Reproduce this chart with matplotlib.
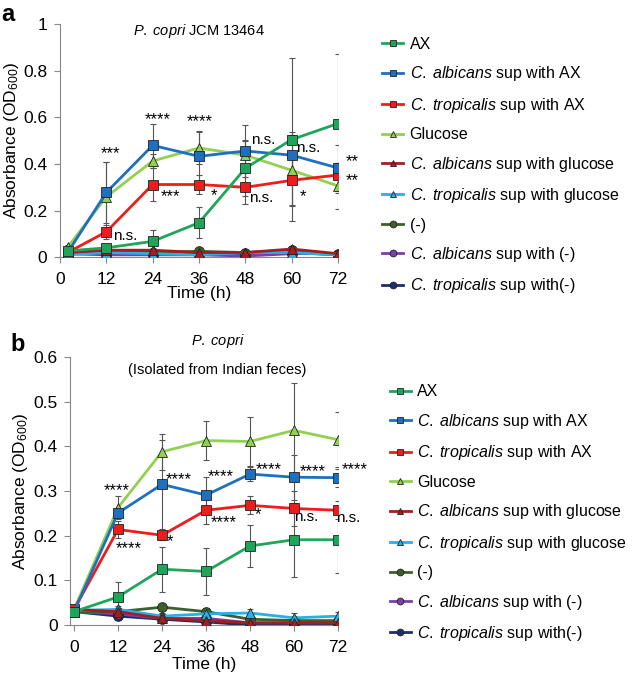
import matplotlib
matplotlib.use("Agg")
import matplotlib.pyplot as plt
import numpy as np

plt.rcParams['font.family'] = ['Liberation Sans', 'DejaVu Sans']
plt.rcParams['mathtext.fontset'] = 'custom'
plt.rcParams['mathtext.rm'] = 'Liberation Sans'
plt.rcParams['mathtext.it'] = 'Liberation Sans:italic'

# ---- data ----
labels = ["AX",
          r"$\it{C.\;albicans}$ sup with AX",
          r"$\it{C.\;tropicalis}$ sup with AX",
          "Glucose",
          r"$\it{C.\;albicans}$ sup with glucose",
          r"$\it{C.\;tropicalis}$ sup with glucose",
          "(-)",
          r"$\it{C.\;albicans}$ sup with (-)",
          r"$\it{C.\;tropicalis}$ sup with(-)"]
colors = ["#1fa55a", "#1f6fbf", "#ee1c1c", "#92d050", "#a51d23",
          "#27b0e6", "#3d5f2c", "#7a3fa8", "#1b2f6b"]
markers = ["s", "s", "s", "^", "^", "^", "o", "o", "o"]

time_a = [2, 12, 24, 36, 48, 60, 72]
ax_a = [0.027, 0.04, 0.068, 0.148, 0.382, 0.505, 0.574]
alb_ax_a = [0.02, 0.278, 0.48, 0.433, 0.456, 0.438, 0.383]
trop_ax_a = [0.02, 0.109, 0.312, 0.312, 0.30, 0.33, 0.353]
glc_a = [0.043, 0.259, 0.413, 0.469, 0.438, 0.373, 0.306]
alb_glc_a = [0.02, 0.03, 0.03, 0.02, 0.02, 0.035, 0.015]
trop_glc_a = [0.01, 0.02, 0.015, 0.01, 0.02, 0.02, 0.01]
neg_a = [0.02, 0.025, 0.02, 0.025, 0.02, 0.03, 0.01]
alb_neg_a = [0.015, 0.01, 0.01, 0.01, 0.005, 0.015, 0.015]
trop_neg_a = [0.015, 0.015, 0.015, 0.02, 0.015, 0.02, 0.01]

err_ax_a = [0.01, 0.01, 0.05, 0.066, 0.12, 0.35, 0.3]
err_alb_ax_a = [0.01, 0.13, 0.09, 0.11, 0.11, 0.1, 0.1]
err_trop_ax_a = [0.01, 0.03, 0.07, 0.04, 0.07, 0.11, 0.05]
err_glc_a = [0.01, 0.15, 0.03, 0.07, 0.06, 0.15, 0.1]
err_low_a = [0.008, 0.01, 0.01, 0.01, 0.012, 0.015, 0.008]

time_b = [0, 12, 24, 36, 48, 60, 72]
ax_b = [0.03, 0.063, 0.125, 0.12, 0.177, 0.191, 0.191]
alb_ax_b = [0.03, 0.251, 0.315, 0.291, 0.338, 0.331, 0.33]
trop_ax_b = [0.035, 0.214, 0.201, 0.257, 0.268, 0.261, 0.257]
glc_b = [0.035, 0.263, 0.388, 0.413, 0.411, 0.436, 0.415]
alb_glc_b = [0.035, 0.03, 0.015, 0.01, 0.005, 0.005, 0.005]
trop_glc_b = [0.033, 0.035, 0.02, 0.025, 0.027, 0.016, 0.02]
neg_b = [0.03, 0.03, 0.04, 0.03, 0.013, 0.01, 0.01]
alb_neg_b = [0.03, 0.025, 0.015, 0.015, 0.005, 0.005, 0.005]
trop_neg_b = [0.03, 0.02, 0.013, 0.007, 0.0, 0.0, 0.0]

err_ax_b = [0.005, 0.033, 0.05, 0.053, 0.048, 0.083, 0.075]
err_alb_ax_b = [0.005, 0.01, 0.1, 0.04, 0.015, 0.05, 0.02]
err_trop_ax_b = [0.005, 0.02, 0.01, 0.03, 0.02, 0.04, 0.02]
err_glc_b = [0.005, 0.025, 0.04, 0.043, 0.055, 0.107, 0.062]
err_low_b = [0.005, 0.008, 0.008, 0.008, 0.01, 0.01, 0.01]

# significance marks (time, value, text)
sig_a = [(13, 0.445, "***"), (25.4, 0.59, "****"), (36.3, 0.58, "****"),
         (52.6, 0.505, "n.s."), (64.3, 0.47, "n.s."), (16.8, 0.09, "n.s."),
         (28.5, 0.26, "***"), (40, 0.265, "*"), (52.2, 0.255, "n.s."),
         (62.9, 0.26, "*"), (75.6, 0.41, "**"), (75.6, 0.33, "**")]
sig_b = [(11.6, 0.30, "****"), (28.5, 0.326, "****"), (40, 0.333, "****"),
         (53, 0.349, "****"), (65, 0.343, "****"), (76.6, 0.347, "****"),
         (15, 0.17, "****"), (26.2, 0.186, "*"), (40.9, 0.23, "****"),
         (50.1, 0.248, "*"), (63.4, 0.242, "n.s."), (74.8, 0.24, "n.s.")]

series_a = [ax_a, alb_ax_a, trop_ax_a, glc_a, alb_glc_a, trop_glc_a, neg_a, alb_neg_a, trop_neg_a]
errs_a = [err_ax_a, err_alb_ax_a, err_trop_ax_a, err_glc_a] + [err_low_a] * 5
series_b = [ax_b, alb_ax_b, trop_ax_b, glc_b, alb_glc_b, trop_glc_b, neg_b, alb_neg_b, trop_neg_b]
errs_b = [err_ax_b, err_alb_ax_b, err_trop_ax_b, err_glc_b] + [err_low_b] * 5

fig = plt.figure(figsize=(6.32, 6.75), dpi=100)
ax1 = fig.add_axes([0.0949, 0.619, 0.44, 0.345])
ax2 = fig.add_axes([0.1108, 0.074, 0.424, 0.397])


def draw(ax, t, series, errs, sig, ylim, yticks, xlim, xlabpad):
    # error bars first, underneath
    for s, e in zip(series, errs):
        ax.errorbar(t, s, yerr=e, fmt="none", ecolor="#555555", elinewidth=0.8,
                    capsize=2.5, capthick=0.8, zorder=1)
    order = [8, 7, 6, 5, 4, 0, 3, 2, 1]
    for i in order:
        ax.plot(t, series[i], color=colors[i], marker=markers[i], markersize=7,
                markeredgecolor="#222222", markeredgewidth=0.6, linewidth=2,
                label=labels[i], zorder=3 + (9 - i) * 0.01)
    for x, y, txt in sig:
        fs = 11 if txt == "n.s." else 12
        ax.text(x, y, txt, fontsize=fs, ha="center", va="center")
    ax.set_xlim(*xlim)
    ax.set_ylim(*ylim)
    ax.set_yticks(yticks)
    ax.set_xticks(range(0, 73, 12))
    for sp in ["top", "right"]:
        ax.spines[sp].set_visible(False)
    for sp in ["left", "bottom"]:
        ax.spines[sp].set_color("#888888")
    ax.tick_params(labelsize=12.5, color="#888888", length=4)
    ax.tick_params(axis="x", pad=7)
    ax.tick_params(axis="y", pad=5)
    ax.set_xlabel("Time (h)", fontsize=12.5, labelpad=xlabpad)
    ax.set_ylabel("Absorbance (OD$_{600}$)", fontsize=12.5, labelpad=2)
    h, l = ax.get_legend_handles_labels()
    idx = [l.index(lab) for lab in labels]
    return [h[k] for k in idx], [l[k] for k in idx]


h1, l1 = draw(ax1, time_a, series_a, errs_a, sig_a, (0, 1), [0, 0.2, 0.4, 0.6, 0.8, 1],
              (0, 72), -1)
ax1.set_yticklabels(["0", "0.2", "0.4", "0.6", "0.8", "1"])
h2, l2 = draw(ax2, time_b, series_b, errs_b, sig_b, (0, 0.6), [0, 0.1, 0.2, 0.3, 0.4, 0.5, 0.6],
              (-1.1, 72), 1)
ax2.set_yticklabels(["0", "0.1", "0.2", "0.3", "0.4", "0.5", "0.6"])

ax1.text(0.5, 0.97, r"$\it{P.\;copri}$ JCM 13464", transform=ax1.transAxes,
         ha="center", va="center", fontsize=10.5)
ax2.text(0.55, 1.06, r"$\it{P.\;copri}$", transform=ax2.transAxes,
         ha="center", va="center", fontsize=10.5)
ax2.text(0.55, 0.95, "(Isolated from Indian feces)", transform=ax2.transAxes,
         ha="center", va="center", fontsize=10.5)

leg_kw = dict(frameon=False, fontsize=11.5, handlelength=1.3, handletextpad=0.4,
              labelspacing=0.78, markerscale=0.7, borderaxespad=0)
fig.legend(h1, l1, loc="upper left", bbox_to_anchor=(0.595, 0.955), **leg_kw)
fig.legend(h2, l2, loc="upper left", bbox_to_anchor=(0.607, 0.44), **leg_kw)

fig.text(0.002, 0.996, "a", fontsize=17, fontweight="bold", va="top")
fig.text(0.016, 0.48, "b", fontsize=17, fontweight="bold", va="baseline")

fig.savefig("out.png", dpi=100)
